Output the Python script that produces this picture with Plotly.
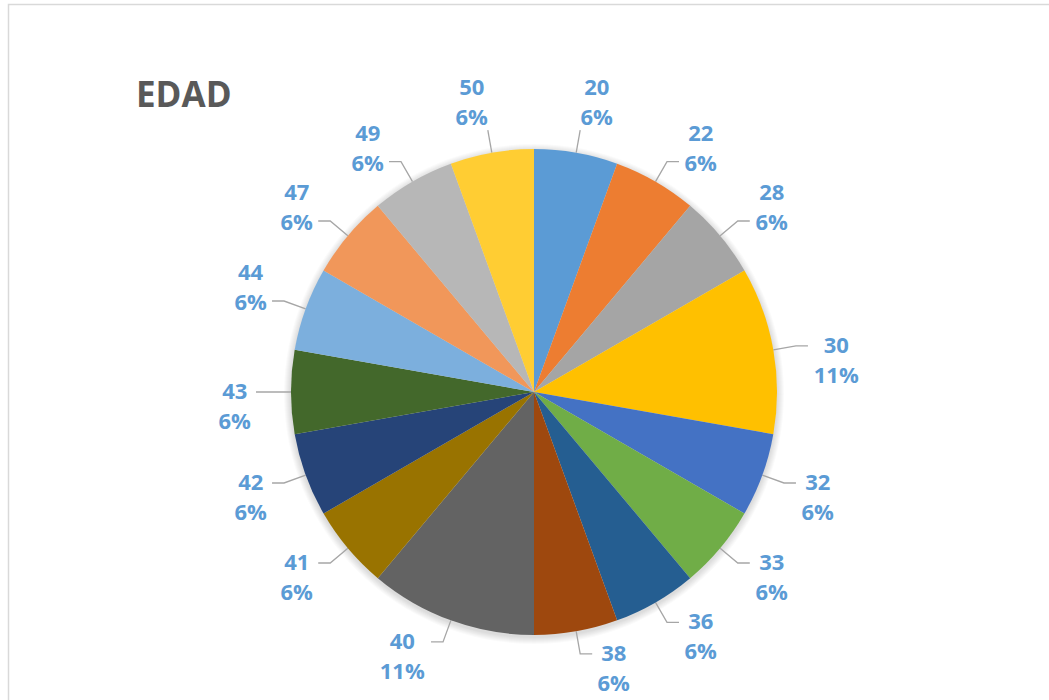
import math
import plotly.graph_objects as go

labels = ["20", "22", "28", "30", "32", "33", "36", "38", "40", "41", "42", "43", "44", "47", "49", "50"]
values = [1, 1, 1, 2, 1, 1, 1, 1, 2, 1, 1, 1, 1, 1, 1, 1]
colors = ["#5B9BD5", "#ED7D31", "#A5A5A5", "#FFC000", "#4472C4", "#70AD47", "#255E91", "#9E480E",
          "#636363", "#997300", "#264478", "#43682B", "#7CAFDD", "#F1975A", "#B7B7B7", "#FFCD33"]
title = "EDAD"

W, H = 1049, 700
cx, cy, r = 534, 392, 243        # pie centre / radius in page pixels
R_ELBOW = 266                    # leader line elbow radius
SEG = 12                         # horizontal leader segment
LINE_GAP = 30                    # spacing between the two text lines
LBL_COLOR = "#5B9BD5"
LEADER = "#A6A6A6"
FONT = "Open Sans"
FS = 22


def text_w(t):
    # approximate width of bold Open Sans text at FS px
    return sum((0.92 if ch == "%" else 0.6) * FS for ch in t)


fig = go.Figure()

fig.add_trace(go.Pie(
    labels=labels, values=values, sort=False, direction="clockwise", rotation=0,
    marker=dict(colors=colors, line=dict(width=0)),
    textinfo="none", showlegend=False, hoverinfo="label+percent",
    domain=dict(x=[(cx - r) / W, (cx + r) / W], y=[1 - (cy + r) / H, 1 - (cy - r) / H]),
))

total = sum(values)
annotations = []
cum = 0.0
lx, ly = [], []
for lab, v in zip(labels, values):
    mid = (cum + v / 2) / total * 2 * math.pi
    cum += v
    s, c = math.sin(mid), math.cos(mid)
    pct = f"{round(100 * v / total)}%"
    bw = max(text_w(lab), text_w(pct)) + 4
    p0 = (cx + r * s, cy - r * c)
    p1 = (cx + R_ELBOW * s, cy - R_ELBOW * c)
    if c > 0.95:
        lx += [p0[0], p1[0], None]
        ly += [p0[1], p1[1], None]
        tx = p1[0] + 16 * (1 if s >= 0 else -1)
        lines = [(lab, p1[1] - 14 - LINE_GAP), (pct, p1[1] - 14)]
        anchor = "center"
    else:
        sg = 1 if s >= 0 else -1
        p2 = (p1[0] + SEG * sg, p1[1])
        lx += [p0[0], p1[0], p2[0], None]
        ly += [p0[1], p1[1], p2[1], None]
        tx = p2[0] + 2 * sg
        anchor = "left" if sg > 0 else "right"
        if c > 0.25:
            lines = [(lab, p2[1] - LINE_GAP), (pct, p2[1])]
        else:
            lines = [(lab, p2[1] - 2), (pct, p2[1] - 2 + LINE_GAP)]
    for txt, yy in lines:
        annotations.append(dict(
            text=f"<b>{txt}</b>", x=tx, y=yy, xref="x", yref="y", width=bw, align="center",
            xanchor=anchor, yanchor="middle", showarrow=False, borderpad=0,
            font=dict(family=FONT, size=FS, color=LBL_COLOR)))

fig.add_trace(go.Scatter(x=lx, y=ly, mode="lines", line=dict(color=LEADER, width=1.3),
                         hoverinfo="skip", showlegend=False))

annotations.append(dict(text=f"<b>{title}</b>", x=134, y=93, xref="x", yref="y",
                        xanchor="left", yanchor="middle", showarrow=False,
                        font=dict(family=FONT, size=35, color="#595959")))

shapes = [dict(type="rect", xref="x", yref="y", x0=8.5, x1=W + 20, y0=4.5, y1=H + 20,
               line=dict(color="#D9D9D9", width=1.5), fillcolor="rgba(0,0,0,0)", layer="below")]
# soft shadow around the pie
for k in range(1, 8):
    shapes.append(dict(type="circle", xref="x", yref="y", x0=cx - r - k, x1=cx + r + k,
                       y0=cy - r - k + 2, y1=cy + r + k + 2, line=dict(width=0),
                       fillcolor="rgba(0,0,0,0.018)", layer="below"))

fig.update_layout(
    width=W, height=H,
    margin=dict(l=0, r=0, t=0, b=0, autoexpand=False),
    paper_bgcolor="white", plot_bgcolor="rgba(0,0,0,0)",
    xaxis=dict(range=[0, W], visible=False, fixedrange=True),
    yaxis=dict(range=[H, 0], visible=False, fixedrange=True),
    shapes=shapes,
    annotations=annotations,
)

fig.write_html("out.html", config={"displayModeBar": False},
               post_script="document.body.style.margin='0';document.body.style.overflow='hidden';")
